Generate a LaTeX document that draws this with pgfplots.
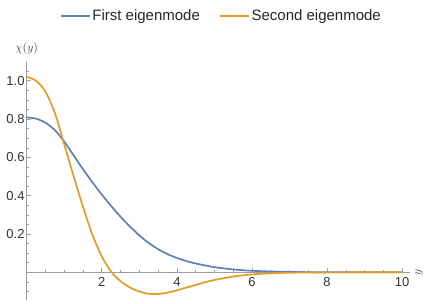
\documentclass[border=0pt]{standalone}
\usepackage{pgfplots}
\pgfplotsset{compat=1.18}
\usepackage{fontspec}
\setmainfont{Liberation Sans}
\definecolor{mblue}{rgb}{0.368417,0.506779,0.709798}
\definecolor{morange}{rgb}{0.880722,0.611041,0.142051}
\definecolor{axgray}{gray}{0.62}
\begin{document}
\begin{tikzpicture}
\useasboundingbox (-26.7bp,-3.9bp) rectangle (399.3bp,300.1bp);
\begin{axis}[
  at={(0,0)}, anchor=south west,
  scale only axis, width=383bp, height=238.5bp,
  xmin=0, xmax=10.2, ymin=-0.145, ymax=1.1,
  axis lines=middle,
  axis line style={axgray, line width=0.6bp, -},
  tick style={axgray, line width=0.6bp},
  tick align=inside,
  major tick length=4.5bp, minor tick length=2.5bp,
  xtick={2,4,6,8,10},
  xticklabels={2,4,6,8,10},
  minor xtick={0.5,1,1.5,2.5,3,3.5,4.5,5,5.5,6.5,7,7.5,8.5,9,9.5},
  ytick={0.2,0.4,0.6,0.8,1.0},
  yticklabels={0.2,0.4,0.6,0.8,1.0},
  minor ytick={-0.1,-0.05,0.05,0.1,0.15,0.25,0.3,0.35,0.45,0.5,0.55,0.65,0.7,0.75,0.85,0.9,0.95,1.05},
  ticklabel style={font=\fontsize{13bp}{15bp}\selectfont, text=black!80},
  xticklabel style={anchor=north, inner sep=0pt, yshift=-5bp},
  yticklabel style={anchor=east, inner sep=0pt, xshift=-2bp},
  ylabel={$\chi(y)$},
  ylabel style={at={(axis description cs:0,1)}, anchor=center, yshift=13.3bp, rotate=0, font=\fontsize{13bp}{15bp}\selectfont, text=black!75},
  xlabel={$y$},
  xlabel style={at={(axis description cs:1,0.1165)}, anchor=center, xshift=9.6bp, rotate=90, font=\fontsize{12bp}{14bp}\selectfont, text=black!75},
  legend style={at={(0.508,1.19)}, anchor=center, draw=none, fill=none,
    legend columns=2, font=\fontsize{15bp}{17bp}\selectfont, text=black!85,
    /tikz/every even column/.append style={column sep=17bp}},
  legend image code/.code={\draw[#1] (0bp,0bp) -- (23bp,0bp); \path (0bp,0bp) -- (29bp,0bp);},
  every axis plot/.append style={line width=1.7bp},
]
\addplot[mblue, smooth] coordinates {
(0,0.809) (0.25,0.802) (0.5,0.781) (0.75,0.742) (1,0.683) (1.25,0.610)
(1.5,0.538) (1.75,0.470) (2,0.406) (2.25,0.346) (2.5,0.290) (2.75,0.239)
(3,0.193) (3.25,0.153) (3.5,0.121) (3.75,0.095) (4,0.075) (4.25,0.059)
(4.5,0.046) (4.75,0.036) (5,0.027) (5.5,0.015) (6,0.008) (6.5,0.0045) (7,0.0022)
(7.5,0.001) (8,0.0005) (9,0.0001) (10,0)
};
\addlegendentry{First eigenmode}
\addplot[morange, smooth] coordinates {
(0,1.021) (0.25,1.0) (0.5,0.943) (0.75,0.832) (1,0.668) (1.25,0.502)
(1.5,0.342) (1.75,0.197) (2,0.083) (2.25,0.004) (2.5,-0.046) (2.75,-0.079)
(3,-0.100) (3.25,-0.112) (3.5,-0.113) (3.75,-0.106) (4,-0.094) (4.25,-0.080)
(4.5,-0.066) (4.75,-0.052) (5,-0.040) (5.5,-0.022) (6,-0.011) (6.5,-0.005)
(7,-0.0022) (7.5,-0.001) (8,-0.0004) (9,0) (10,0)
};
\addlegendentry{Second eigenmode}
\end{axis}
\end{tikzpicture}
\end{document}
